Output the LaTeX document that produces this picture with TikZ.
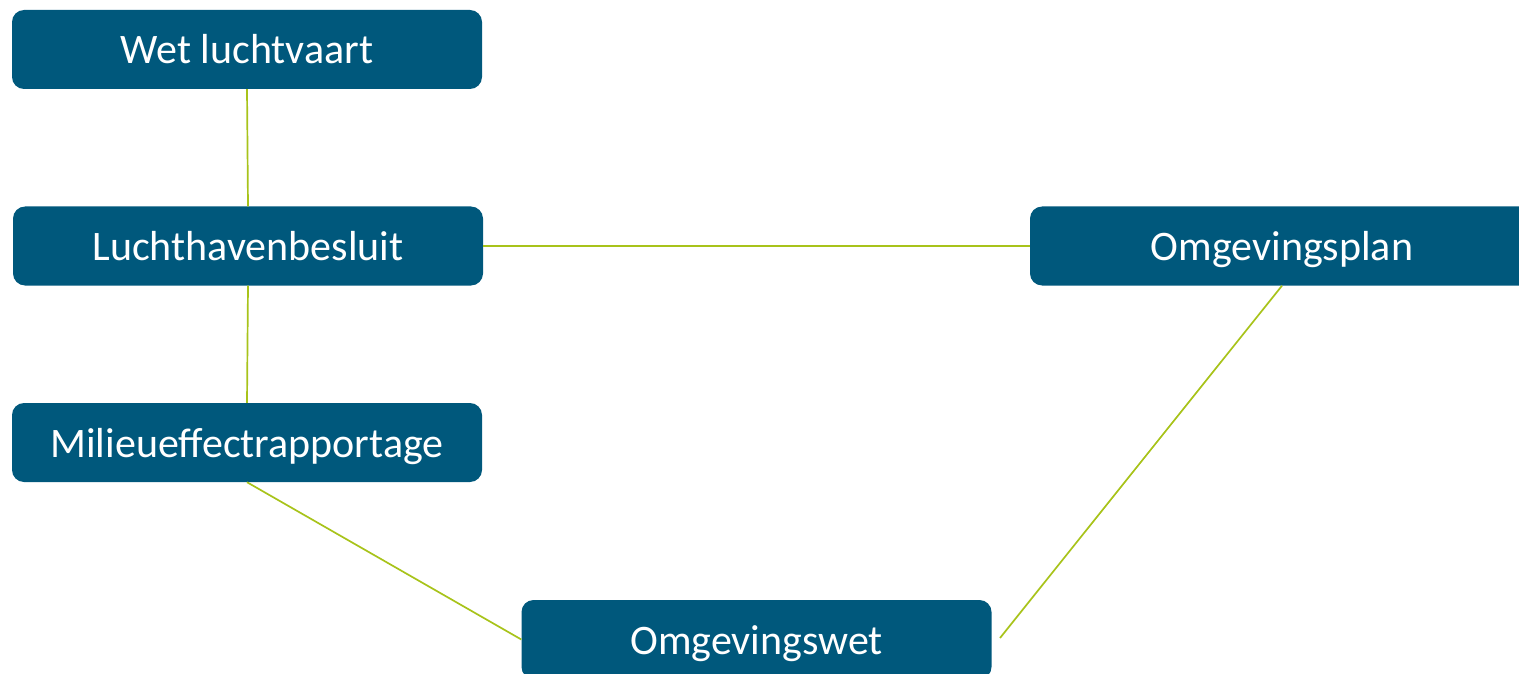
\documentclass[tikz,border=0pt]{standalone}
\usepackage{fontspec}
\setmainfont{Carlito}
\definecolor{boxblue}{HTML}{00587C}
\definecolor{linegreen}{HTML}{A8C31A}
\begin{document}
\begin{tikzpicture}[x=1pt,y=-1pt,
  box/.style={fill=boxblue, draw=none, rounded corners=12pt, text=white,
    font=\fontsize{42}{50}\selectfont, minimum width=470pt, minimum height=79pt,
    text height=29pt, text depth=0pt,
    inner sep=0pt, anchor=center},
  link/.style={draw=linegreen, line width=1.7pt}]
\useasboundingbox (0,0) rectangle (1519,674);
\node[box] (wet) at (247,49.5) {Wet luchtvaart};
\node[box] (lhb) at (248,246) {Luchthavenbesluit};
\node[box] (mer) at (247,442.5) {Milieueffectrapportage};
\node[box] (ow) at (756.5,639.5) {Omgevingswet};
\node[box, minimum width=504pt] (op) at (1282,246) {Omgevingsplan};
\coordinate (owend) at (1000,638);
\draw[link] (wet.south) -- (lhb.north);
\draw[link] (lhb.south) -- (mer.north);
\draw[link] (lhb.east) -- (op.west);
\draw[link] (mer.south) -- (ow.west);
\draw[link] (owend) -- (op.south);
\end{tikzpicture}
\end{document}
